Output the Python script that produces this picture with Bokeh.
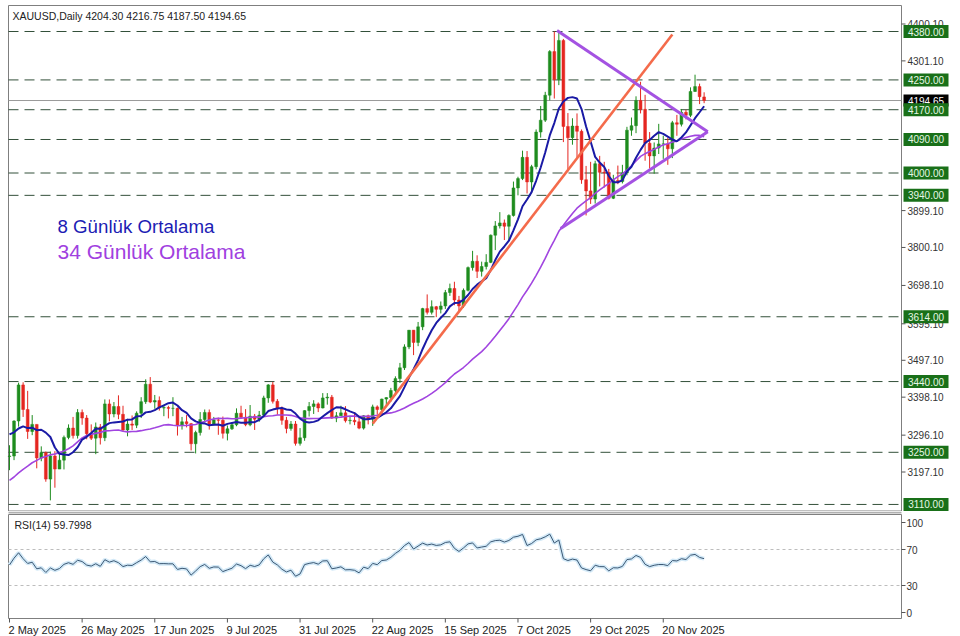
import numpy as np
import pandas as pd
from bokeh.plotting import figure
from bokeh.models import Range1d, ColumnDataSource
from bokeh.layouts import column
from bokeh.embed import file_html
from bokeh.resources import INLINE
from bokeh.core.properties import value

# ---------------- data (daily XAUUSD, 2 May 2025 - 3 Dec 2025) ----------------
warmup_closes = [3034, 3048, 3044, 3023, 3011, 3020, 3019, 3057, 3084, 3124, 3113, 3133, 3114,
                 3037, 2982, 2982, 3083, 3175, 3237, 3210, 3230, 3343, 3327, 3327, 3424, 3381,
                 3288, 3349, 3319, 3344, 3317, 3288, 3239]

opens = [3239,
         3240, 3334, 3431, 3365, 3306,
         3325, 3235, 3249, 3178, 3240,
         3205, 3229, 3290, 3315, 3295,
         3357, 3342, 3300, 3288, 3318,
         3289, 3380, 3353, 3373, 3352,
         3310, 3326, 3323, 3355, 3386,
         3433, 3385, 3389, 3369, 3370,
         3368, 3368, 3323, 3332, 3327,
         3273, 3303, 3338, 3357, 3326,
         3337, 3336, 3301, 3313, 3324,
         3355, 3344, 3324, 3347, 3339,
         3350, 3396, 3431, 3387, 3368,
         3336, 3314, 3326, 3274, 3289,
         3362, 3373, 3380, 3369, 3396,
         3398, 3342, 3348, 3356, 3335,
         3336, 3332, 3315, 3348, 3339,
         3372, 3365, 3393, 3397, 3416,
         3448, 3477, 3533, 3578, 3545,
         3587, 3636, 3626, 3641, 3634,
         3643, 3679, 3690, 3659, 3643,
         3685, 3746, 3763, 3736, 3749,
         3760, 3833, 3858, 3866, 3857,
         3886, 3960, 3985, 4042, 3976,
         4017, 4110, 4142, 4209, 4326,
         4251, 4356, 4125, 4095, 4126,
         4112, 3982, 3952, 3930, 4025,
         4002, 4001, 3932, 3980, 3977,
         4000, 4115, 4127, 4195, 4171,
         4080, 4046, 4067, 4078, 4078,
         4065, 4135, 4131, 4163, 4155,
         4219, 4232, 4204.30]

highs = [3269,
         3336, 3437, 3438, 3415, 3350,
         3325, 3266, 3252, 3252, 3253,
         3249, 3295, 3325, 3345, 3366,
         3365, 3350, 3325, 3330, 3326,
         3392, 3392, 3385, 3403, 3375,
         3340, 3349, 3360, 3398, 3446,
         3452, 3404, 3400, 3378, 3375,
         3398, 3370, 3345, 3350, 3329,
         3308, 3358, 3365, 3365, 3345,
         3343, 3346, 3322, 3330, 3368,
         3375, 3366, 3377, 3353, 3361,
         3402, 3433, 3439, 3393, 3373,
         3345, 3334, 3334, 3315, 3363,
         3385, 3390, 3384, 3409, 3409,
         3404, 3358, 3375, 3374, 3345,
         3358, 3345, 3350, 3351, 3378,
         3376, 3394, 3398, 3423, 3454,
         3490, 3540, 3578, 3578, 3600,
         3638, 3674, 3658, 3643, 3655,
         3686, 3703, 3708, 3670, 3690,
         3749, 3791, 3779, 3762, 3782,
         3835, 3871, 3895, 3875, 3889,
         3977, 3990, 4060, 4059, 4022,
         4117, 4180, 4218, 4330, 4380,
         4381, 4360, 4161, 4147, 4160,
         4117, 4019, 4030, 4033, 4046,
         4030, 4011, 3995, 4020, 4022,
         4124, 4149, 4206, 4245, 4210,
         4110, 4082, 4132, 4100, 4095,
         4140, 4156, 4172, 4170, 4230,
         4264, 4240, 4216.75]

lows = [3202,
        3229, 3319, 3345, 3286, 3296,
        3207, 3226, 3171, 3121, 3155,
        3205, 3204, 3285, 3287, 3287,
        3324, 3285, 3283, 3245, 3271,
        3280, 3333, 3344, 3339, 3307,
        3293, 3310, 3315, 3342, 3380,
        3382, 3367, 3362, 3347, 3341,
        3347, 3295, 3311, 3317, 3255,
        3247, 3295, 3330, 3311, 3322,
        3297, 3287, 3282, 3310, 3320,
        3341, 3320, 3320, 3310, 3332,
        3345, 3383, 3381, 3351, 3324,
        3301, 3308, 3268, 3268, 3281,
        3346, 3353, 3358, 3368, 3378,
        3340, 3331, 3348, 3330, 3325,
        3323, 3312, 3311, 3325, 3321,
        3351, 3351, 3372, 3386, 3402,
        3436, 3471, 3527, 3511, 3535,
        3578, 3620, 3620, 3613, 3623,
        3635, 3670, 3645, 3628, 3638,
        3682, 3738, 3718, 3722, 3741,
        3758, 3793, 3851, 3820, 3818,
        3883, 3940, 3981, 3945, 3947,
        4010, 4095, 4137, 4195, 4200,
        4236, 4083, 4004, 4076, 4040,
        3971, 3886, 3917, 3918, 3964,
        3961, 3929, 3930, 3970, 3972,
        3994, 4100, 4107, 4160, 4033,
        4012, 3998, 4051, 4038, 4022,
        4040, 4100, 4125, 4144, 4150,
        4218, 4185, 4187.50]

closes = [3240,
          3334, 3431, 3365, 3306, 3325,
          3235, 3249, 3178, 3240, 3205,
          3229, 3290, 3315, 3295, 3357,
          3342, 3300, 3288, 3318, 3289,
          3380, 3353, 3373, 3352, 3310,
          3326, 3323, 3355, 3386, 3433,
          3385, 3389, 3369, 3370, 3368,
          3368, 3323, 3332, 3327, 3273,
          3303, 3338, 3357, 3326, 3337,
          3336, 3301, 3313, 3324, 3355,
          3344, 3324, 3347, 3339, 3350,
          3396, 3431, 3387, 3368, 3336,
          3314, 3326, 3274, 3289, 3362,
          3373, 3380, 3369, 3396, 3398,
          3342, 3348, 3356, 3335, 3336,
          3332, 3315, 3348, 3339, 3372,
          3365, 3393, 3397, 3416, 3448,
          3477, 3533, 3578, 3545, 3587,
          3636, 3626, 3641, 3634, 3643,
          3679, 3690, 3659, 3643, 3685,
          3746, 3763, 3736, 3749, 3760,
          3833, 3858, 3866, 3857, 3886,
          3960, 3985, 4042, 3976, 4017,
          4110, 4142, 4209, 4326, 4251,
          4356, 4125, 4095, 4126, 4112,
          3982, 3952, 3930, 4025, 4002,
          4001, 3932, 3980, 3977, 4000,
          4115, 4127, 4195, 4171, 4080,
          4046, 4067, 4078, 4078, 4065,
          4135, 4131, 4163, 4155, 4219,
          4232, 4205, 4194.65]

date_tick_bars = [0, 16, 32, 48, 64, 80, 96, 112, 128, 144]
date_tick_labels = ["2 May 2025", "26 May 2025", "17 Jun 2025", "9 Jul 2025", "31 Jul 2025",
                    "22 Aug 2025", "15 Sep 2025", "7 Oct 2025", "29 Oct 2025", "20 Nov 2025"]

levels = [4380, 4250, 4170, 4090, 4000, 3940, 3614, 3440, 3250, 3110]
bid_price = 4194.65
price_ticks = [3197.10, 3296.10, 3398.10, 3497.10, 3595.10, 3698.10, 3800.10, 3899.10, 4301.10, 4400.10]
rsi_ticks = [0, 30, 70, 100]
rsi_levels = [70, 30]

# trend lines (bar index, price)
orange_line_x = [80, 146]
orange_line_y = [3327, 4372]
tri_upper_x = [120.6, 153.8]
tri_upper_y = [4383, 4111]
tri_lower_x = [121.4, 153.8]
tri_lower_y = [3851, 4111]

title_text = "XAUUSD,Daily  4204.30 4216.75 4187.50 4194.65"
rsi_title = "RSI(14) 59.7998"
ma8_text = "8 Günlük Ortalama"
ma34_text = "34 Günlük Ortalama"

# ---------------- derived indicators ----------------
n = len(closes)
bars = np.arange(n)
allc = pd.Series(warmup_closes + closes, dtype=float)
w = len(warmup_closes)
ma8 = allc.rolling(8).mean().iloc[w:].to_numpy()
ma34 = allc.rolling(34).mean().iloc[w:].to_numpy()
d = allc.diff()
gain = d.clip(lower=0)
loss = (-d).clip(lower=0)
ag = gain.ewm(alpha=1 / 14, adjust=False).mean()
al = loss.ewm(alpha=1 / 14, adjust=False).mean()
rsi = (100 - 100 / (1 + ag / al)).iloc[w:].to_numpy()

# ---------------- layout helpers (screen pixel -> data) ----------------
X0_PX, PX_PER_BAR = 9.0, 4.54
P_REF, P_REF_PX, PX_PER_USD = 4380.0, 31.0, 0.3724
R_TOP_PX = 511          # page y where RSI figure starts
R100_PX, PX_PER_RSI = 522.0, 0.9


def bx(px):
    return (px - X0_PX) / PX_PER_BAR


def py(pxy):
    return P_REF - (pxy - P_REF_PX) / PX_PER_USD


def ry(pxy):
    return 100 - (pxy - R100_PX) / PX_PER_RSI


GREEN = "#1e8c1e"
RED = "#e52620"
BORDER = "#7f7f7f"
FONT = "Liberation Sans"
LVL_COL = "#33503a"

colors = [GREEN if c >= o else RED for o, c in zip(opens, closes)]
src = ColumnDataSource(dict(x=bars, o=opens, h=highs, l=lows, c=closes,
                            top=np.maximum(opens, closes), bot=np.minimum(opens, closes),
                            col=colors))

xr = Range1d(bx(0), bx(960))
L, R = bx(8), bx(901)

# ---------------- main price panel ----------------
p = figure(width=960, height=R_TOP_PX, x_range=xr, y_range=Range1d(py(R_TOP_PX), py(0)),
           output_backend="svg", toolbar_location=None,
           x_axis_location=None, y_axis_location=None,
           min_border_left=0, min_border_right=0, min_border_top=0, min_border_bottom=0)
p.outline_line_color = None
p.grid.grid_line_color = None
p.background_fill_color = "white"
p.border_fill_color = "white"

T, B = py(5), py(510.5)
p.segment(x0=[L, R, L, L], y0=[T, T, T, B], x1=[L, R, R, R], y1=[B, B, T, B],
          line_color=BORDER, line_width=1)

p.segment(x0=L, x1=R, y0=levels, y1=levels, line_color=LVL_COL, line_dash="10 6", line_width=1)
p.segment(x0=L, x1=R, y0=[bid_price], y1=[bid_price], line_color="#9a9a9a", line_width=1)

p.segment(x0="x", y0="l", x1="x", y1="h", color="col", line_width=1, source=src)
p.vbar(x="x", width=0.62, top="top", bottom="bot", fill_color="col", line_color="col",
       line_width=0.5, source=src)

p.line(bars, ma34, line_color="#a145e0", line_width=1.6)
p.line(bars, ma8, line_color="#1a1aa5", line_width=2)

p.line(orange_line_x, orange_line_y, line_color="#f46b4b", line_width=2.6)
p.line(tri_upper_x, tri_upper_y, line_color="#a452e2", line_width=3)
p.line(tri_lower_x, tri_lower_y, line_color="#a452e2", line_width=3)

# price scale (right)
p.segment(x0=R, x1=bx(905), y0=price_ticks, y1=price_ticks, line_color="#555555", line_width=1)
p.text(x=bx(907), y=price_ticks, text=[f"{t:.2f}" for t in price_ticks],
       text_font=value(FONT), text_font_size=value("10px"), text_color="#333333",
       text_baseline="middle", text_align="left")

p.rect(x=bx(925.5), y=[bid_price], width=45, height=12, width_units="screen",
       height_units="screen", fill_color="black", line_color=None)
p.text(x=bx(925.5), y=[bid_price], text=[f"{bid_price:.2f}"], text_font=value(FONT),
       text_font_size=value("10px"), text_color="white", text_baseline="middle", text_align="center")
p.rect(x=bx(925.5), y=levels, width=45, height=13, width_units="screen",
       height_units="screen", fill_color="#197019", line_color=None)
p.text(x=bx(925.5), y=levels, text=[f"{lv:.2f}" for lv in levels], text_font=value(FONT),
       text_font_size=value("10px"), text_color="#e6f7e6", text_baseline="middle", text_align="center")

p.text(x=[bx(12)], y=[py(15)], text=[title_text], text_font=value(FONT),
       text_font_size=value("10.5px"), text_color="#222222", text_baseline="middle")
p.text(x=[bx(57)], y=[py(226)], text=[ma8_text], text_font=value(FONT),
       text_font_size=value("18.7px"), text_color="#1c1cb4", text_baseline="middle")
p.text(x=[bx(57)], y=[py(251)], text=[ma34_text], text_font=value(FONT),
       text_font_size=value("21px"), text_color="#a040e0", text_baseline="middle")

# ---------------- RSI panel ----------------
RH = 636 - R_TOP_PX

r = figure(width=960, height=RH, x_range=xr, y_range=Range1d(ry(636), ry(R_TOP_PX)),
           output_backend="svg", toolbar_location=None,
           x_axis_location=None, y_axis_location=None,
           min_border_left=0, min_border_right=0, min_border_top=0, min_border_bottom=0)
r.outline_line_color = None
r.grid.grid_line_color = None

RT, RB = ry(514), ry(618)
r.segment(x0=[L, R, L, L], y0=[RT, RT, RT, RB], x1=[L, R, R, R], y1=[RB, RB, RT, RB],
          line_color=BORDER, line_width=1)
r.segment(x0=L, x1=R, y0=[ry(512)], y1=[ry(512)], line_color="#b0b0b0", line_width=2)

r.segment(x0=L, x1=R, y0=rsi_levels, y1=rsi_levels, line_color="#bdbdbd",
          line_dash="3 3", line_width=1)
r.line(bars, rsi, line_color="#d3e9f7", line_width=4)
r.line(bars, rsi, line_color="#3b5874", line_width=1)

r.segment(x0=R, x1=bx(905), y0=rsi_ticks, y1=rsi_ticks, line_color="#555555", line_width=1)
r.text(x=bx(906), y=rsi_ticks, text=[str(t) for t in rsi_ticks], text_font=value(FONT),
       text_font_size=value("10px"), text_color="#333333", text_baseline="middle", text_align="left")

r.segment(x0=date_tick_bars, x1=date_tick_bars, y0=RB, y1=ry(622), line_color="#555555", line_width=1)
r.text(x=date_tick_bars, y=ry(623), text=date_tick_labels, x_offset=-1, text_font=value(FONT),
       text_font_size=value("11px"), text_color="#222222", text_baseline="top", text_align="left")

r.text(x=[bx(14)], y=[ry(524)], text=[rsi_title], text_font=value(FONT),
       text_font_size=value("10.5px"), text_color="#222222", text_baseline="middle")

layout = column(p, r, spacing=0)
open("out.html", "w").write(file_html(layout, INLINE))
